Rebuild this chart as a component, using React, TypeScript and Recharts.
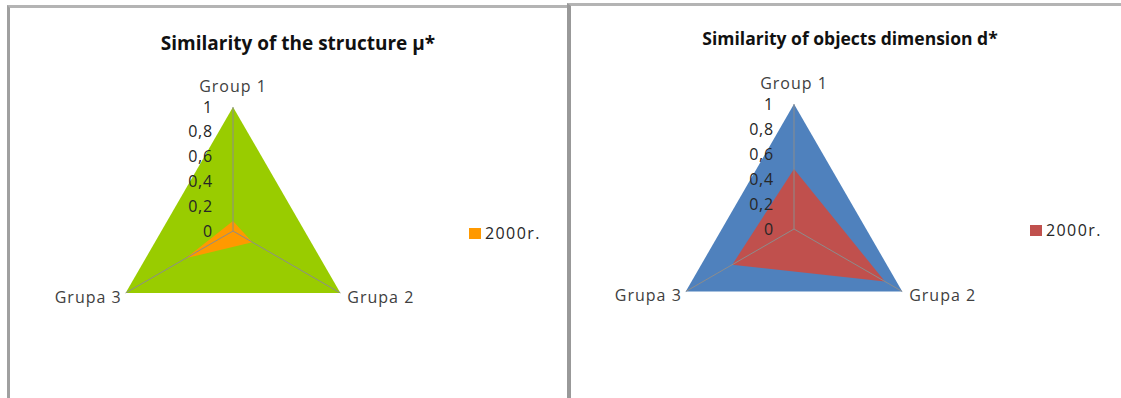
import React from 'react';
import { RadarChart, Radar, PolarGrid, PolarAngleAxis, PolarRadiusAxis, Legend } from 'recharts';

// categories on the three spokes
const groups = ['Group 1', 'Grupa 2', 'Grupa 3'];
// scale ticks on the vertical spoke
const radiusTicks = [0, 0.2, 0.4, 0.6, 0.8, 1];

// similarity of the structure μ*
const structureMax = [1, 1, 1];
const structure2000 = [0.08, 0.18, 0.44];

// similarity of objects dimension d*
const dimensionMax = [1, 1, 1];
const dimension2000 = [0.48, 0.84, 0.57];

const FONT = '"Open Sans", Lato, sans-serif';

const buildRows = (max: number[], year: number[]) =>
  groups.map((name, i) => ({ name, max: max[i], y2000: year[i] }));

const structureRows = buildRows(structureMax, structure2000);
const dimensionRows = buildRows(dimensionMax, dimension2000);

const RadiusTick = (props: any) => {
  const { x, y, payload } = props;
  return (
    <text x={x - 20} y={y} dy="0.35em" textAnchor="end" fontSize={16} letterSpacing={0.8} fontFamily={FONT} fill="#262626">
      {String(payload.value).replace('.', ',')}
    </text>
  );
};

const AngleTick = (props: any) => {
  const { x, y, payload, textAnchor } = props;
  let tx = x;
  let ty = y;
  if (textAnchor === 'middle') ty = y - 13;
  if (textAnchor === 'end') tx = x + 3;
  return (
    <text x={tx} y={ty} dy="0.35em" textAnchor={textAnchor} fontSize={16} letterSpacing={1} fontFamily={FONT} fill="#404040">
      {payload.value}
    </text>
  );
};

const LegendItem = ({ color, label }: { color: string; label: string }) => (
  <div style={{ display: 'flex', alignItems: 'center', fontFamily: FONT, fontSize: 16, letterSpacing: 1.4, color: '#262626' }}>
    <span style={{ width: 12, height: 11, background: color, marginRight: 4, display: 'inline-block' }} />
    {label}
  </div>
);

interface SpiderProps {
  rows: { name: string; max: number; y2000: number }[];
  back: string;
  front: string;
  cx: number;
  cy: number;
  radius: number;
  legendLeft: number;
  legendTop: number;
}

const Spider = ({ rows, back, front, cx, cy, radius, legendLeft, legendTop }: SpiderProps) => (
  <RadarChart width={560} height={398} data={rows} cx={cx} cy={cy} outerRadius={radius}>
    <Radar dataKey="max" fill={back} fillOpacity={1} stroke="none" legendType="none" isAnimationActive={false} />
    <Radar dataKey="y2000" name="2000r." fill={front} fillOpacity={1} stroke="none" isAnimationActive={false} />
    {/* spokes drawn above the filled areas; the single ring sits at radius 0 */}
    <PolarGrid gridType="polygon" polarRadius={[0]} stroke="#8c8c8c" strokeWidth={1} zIndex={600} />
    <PolarAngleAxis dataKey="name" axisLine={false} tickLine={false} tick={<AngleTick />} />
    <PolarRadiusAxis
      angle={90}
      domain={[0, 1]}
      ticks={radiusTicks}
      axisLine={false}
      tickLine={false}
      tick={<RadiusTick />}
    />
    <Legend
      content={() => <LegendItem color={front} label="2000r." />}
      wrapperStyle={{ left: legendLeft, top: legendTop, width: 'auto' }}
    />
  </RadarChart>
);

const Title = ({ text, center, top, size }: { text: string; center: number; top: number; size: number }) => (
  <div
    style={{
      position: 'absolute',
      left: center - 200,
      width: 400,
      top,
      textAlign: 'center',
      fontFamily: FONT,
      fontWeight: 700,
      fontSize: size,
      color: '#111',
      whiteSpace: 'nowrap',
      lineHeight: '24px',
    }}
  >
    {text}
  </div>
);

export default function App() {
  return (
    <div style={{ position: 'absolute', left: 0, top: 0, width: 1121, height: 398, overflow: 'hidden', background: '#fff' }}>
      <div
        style={{
          position: 'absolute',
          left: 7,
          top: 5,
          width: 600,
          height: 420,
          borderLeft: '3px solid #a0a0a0',
          borderTop: '3px solid #b4b4b4',
        }}
      />
      <div
        style={{
          position: 'absolute',
          left: 567,
          top: 3,
          width: 600,
          height: 420,
          background: '#fff',
          borderLeft: '4px solid #999',
          borderTop: '3px solid #b4b4b4',
        }}
      />
      <Title text="Similarity of the structure μ*" center={298} top={31} size={19} />
      <Title text="Similarity of objects dimension d*" center={850} top={26} size={17.5} />
      <div style={{ position: 'absolute', left: 0, top: 0 }}>
        <Spider rows={structureRows} back="#99cc00" front="#ff9900" cx={233} cy={231} radius={124} legendLeft={469} legendTop={222} />
      </div>
      <div style={{ position: 'absolute', left: 570, top: 0 }}>
        <Spider rows={dimensionRows} back="#4f81bd" front="#c0504d" cx={224} cy={229} radius={125} legendLeft={460} legendTop={219} />
      </div>
    </div>
  );
}
